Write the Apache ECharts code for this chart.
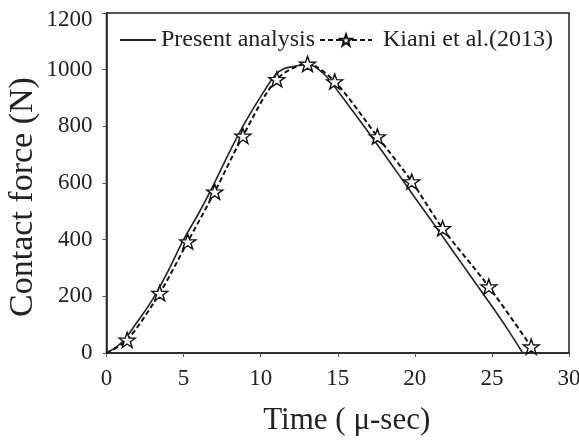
<!DOCTYPE html>
<html>
<head>
<meta charset="utf-8">
<script src="https://cdn.jsdelivr.net/npm/echarts@6/dist/echarts.min.js"></script>
<style>
html,body{margin:0;padding:0;background:#fff;}
#c{width:579px;height:441px;}
</style>
</head>
<body>
<div id="c"></div>
<script>
// Present analysis (solid line)
const presentT = [0, 1, 2, 3, 4, 5, 6, 7, 8, 9, 10, 11, 11.5, 12, 13, 14, 15, 16, 17, 18, 19, 20, 21, 22, 23, 24, 25, 26, 27];
const presentF = [0, 38, 110, 190, 290, 400, 495, 600, 712, 815, 905, 985, 1003, 1010, 1018, 990, 925, 852, 778, 703, 626, 549, 473, 396, 319, 242, 165, 85, 0];
// Kiani et al. (2013) (dashed line with stars); first point is the origin (no marker)
const kianiT = [0, 1.34, 3.45, 5.27, 7.02, 8.85, 11.05, 13.04, 14.8, 17.57, 19.8, 21.8, 24.8, 27.55];
const kianiF = [0, 46, 211, 393, 569, 766, 966, 1020, 958, 764, 605, 440, 234, 22];
const xTicks = [0, 5, 10, 15, 20, 25, 30];
const yTicks = [0, 200, 400, 600, 800, 1000, 1200];

const FONT = 'Liberation Serif';
const STAR = 'path://M0,-10 L2.35,-3.24 L9.51,-3.09 L3.8,1.24 L5.88,8.09 L0,4 L-5.88,8.09 L-3.8,1.24 L-9.51,-3.09 L-2.35,-3.24 Z';

const presentData = presentT.map((t, i) => [t, presentF[i]]);
const kianiData = kianiT.map((t, i) => (i === 0 ? { value: [t, kianiF[i]], symbol: 'none' } : [t, kianiF[i]]));

const chart = echarts.init(document.getElementById('c'));
chart.setOption({
  animation: false,
  backgroundColor: '#fff',
  grid: { left: 106.5, right: 10, top: 13, bottom: 88, containLabel: false, outerBoundsMode: 'none',
    show: true, borderColor: '#222', borderWidth: 1.5, backgroundColor: 'transparent' },
  legend: [
    { data: [{ name: 'Present analysis', itemStyle: { opacity: 0 } }], left: 114, top: 23, itemWidth: 36, itemHeight: 14, itemGap: 0,
      textStyle: { fontFamily: FONT, fontSize: 24, color: '#222', padding: [0, 0, 0, 0] } },
    { data: ['Kiani et al.(2013)'], left: 314, top: 23, itemWidth: 52, itemHeight: 14, itemGap: 0,
      textStyle: { fontFamily: FONT, fontSize: 24, color: '#222', padding: [0, 0, 0, 6] } }
  ],
  xAxis: {
    type: 'value', min: 0, max: 30, interval: 5,
    name: 'Time ( μ-sec)', nameLocation: 'middle', nameGap: 52, nameMoveOverlap: false,
    nameTextStyle: { fontFamily: FONT, fontSize: 31, color: '#222', padding: [0, 0, 0, 18] },
    axisLine: { show: true, lineStyle: { color: '#222', width: 1.5 } },
    axisTick: { show: true, length: 4, lineStyle: { color: '#555' } },
    axisLabel: { fontFamily: FONT, fontSize: 23, color: '#222', margin: 14,
      customValues: xTicks },
    splitLine: { show: false }
  },
  yAxis: {
    type: 'value', min: 0, max: 1200, interval: 200,
    name: 'Contact force (N)', nameLocation: 'middle', nameGap: 66, nameRotate: 90, nameMoveOverlap: false,
    nameTextStyle: { fontFamily: FONT, fontSize: 34, color: '#222', padding: [0, 28, 0, 0] },
    axisLine: { show: true, lineStyle: { color: '#222', width: 1.5 } },
    axisTick: { show: true, length: 4, lineStyle: { color: '#555' } },
    axisLabel: { fontFamily: FONT, fontSize: 23, color: '#222', margin: 14,
      formatter: v => (v === 1200 ? '{top|1200}' : String(v)),
      rich: { top: { fontFamily: FONT, fontSize: 23, color: '#222', padding: [14, 0, 0, 0] } } },
    splitLine: { show: false }
  },
  series: [
    { name: 'Present analysis', type: 'line', data: presentData, smooth: 0.4, showSymbol: false, symbol: 'none',
      lineStyle: { color: '#222', width: 1.6, type: 'solid' }, itemStyle: { color: '#222' } },
    { name: 'Kiani et al.(2013)', type: 'line', data: kianiData, smooth: 0.3, symbol: STAR, symbolSize: [16, 15],
      lineStyle: { color: '#111', width: 2, type: [5, 3] },
      itemStyle: { color: '#fff', borderColor: '#111', borderWidth: 1.4 } }
  ]
});
</script>
</body>
</html>
